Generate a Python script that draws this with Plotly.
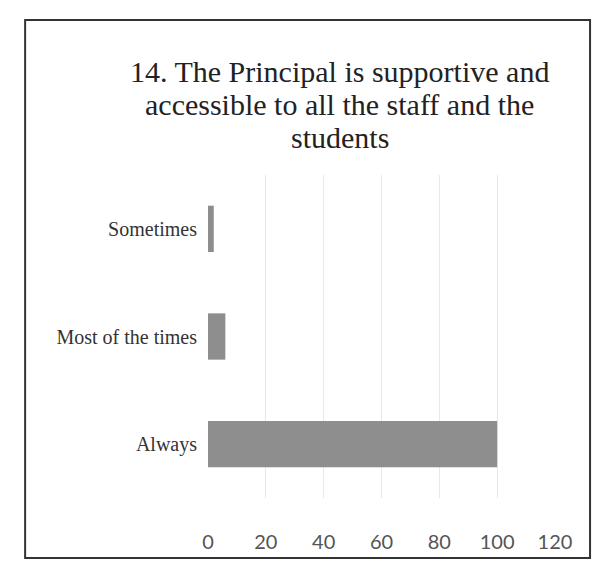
import plotly.graph_objects as go

categories = ["Always", "Most of the times", "Sometimes"]
values = [100, 6, 2]
tick_vals = [0, 20, 40, 60, 80, 100, 120]
tick_text = ["0", "20", "40", "60", "80", "100", "120"]
title_lines = ["14. The Principal is supportive and",
               "accessible to all the staff and the",
               "students"]
title_y = [1.319, 1.217, 1.115]

fig = go.Figure(go.Bar(
    x=values, y=categories, orientation="h",
    marker=dict(color="#8e8e8e", line=dict(width=0)),
    width=0.43,
))

annotations = [dict(text=t, xref="paper", yref="paper", x=0.38, y=yy,
                    xanchor="center", yanchor="middle", showarrow=False,
                    font=dict(family="Liberation Serif", size=30, color="#222"))
               for t, yy in zip(title_lines, title_y)]

fig.update_layout(
    width=610, height=573,
    margin=dict(l=200, r=63, t=167, b=83, autoexpand=False),
    paper_bgcolor="white", plot_bgcolor="white",
    showlegend=False,
    annotations=annotations,
    xaxis=dict(range=[0, 120], tickvals=tick_vals, ticktext=tick_text,
               showgrid=True, gridcolor="#e8e8e8", gridwidth=1, zeroline=False,
               showline=False, ticks="", ticklabelstandoff=30, automargin=False,
               tickfont=dict(family="Lato", size=20, color="#555")),
    yaxis=dict(showgrid=False, showline=False, ticks="", zeroline=False,
               ticklabelstandoff=10, automargin=False,
               tickfont=dict(family="Liberation Serif", size=20, color="#333")),
    shapes=[dict(type="rect", xref="paper", yref="paper",
                 x0=-0.527, x1=1.101, y0=-0.186, y1=1.48,
                 line=dict(color="#333", width=2), fillcolor="rgba(0,0,0,0)")],
)

fig.write_html("out.html")
